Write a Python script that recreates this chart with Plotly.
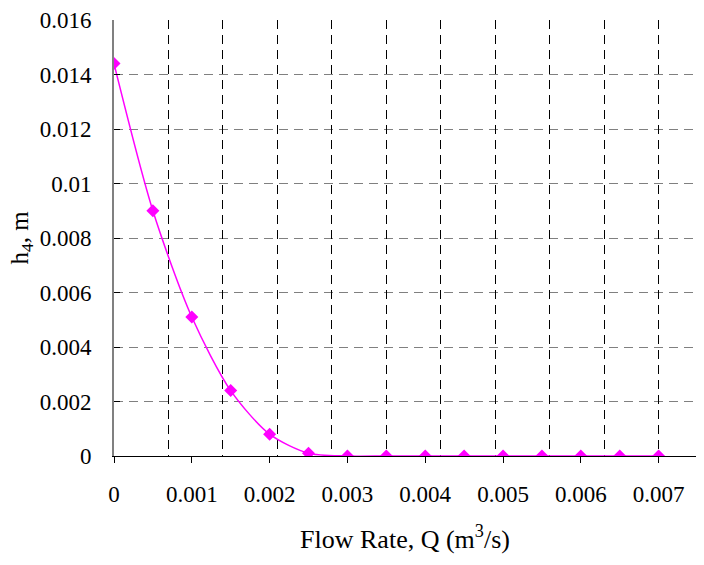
import plotly.graph_objects as go

# Flow rate Q (m^3/s) and head h4 (m)
flow_rate = [0.0, 0.0005, 0.001, 0.0015, 0.002, 0.0025, 0.003, 0.0035,
             0.004, 0.0045, 0.005, 0.0055, 0.006, 0.0065, 0.007]
head_h4 = [0.0144, 0.0090, 0.0051, 0.0024, 0.0008, 0.0001, 0.0, 0.0,
           0.0, 0.0, 0.0, 0.0, 0.0, 0.0, 0.0]

x_tick_values = [0.0, 0.001, 0.002, 0.003, 0.004, 0.005, 0.006, 0.007]
x_tick_labels = ["0", "0.001", "0.002", "0.003", "0.004", "0.005", "0.006", "0.007"]
y_tick_values = [0.0, 0.002, 0.004, 0.006, 0.008, 0.010, 0.012, 0.014, 0.016]
y_tick_labels = ["0", "0.002", "0.004", "0.006", "0.008", "0.01", "0.012", "0.014", "0.016"]

x_range = [0.0, 0.00748]
y_range = [0.0, 0.016]
vgrid_step = 0.0007

FONT = "Liberation Serif"
TICK_SIZE = 23
TITLE_SIZE = 26
MAGENTA = "#FF00FF"

fig = go.Figure()
# Invisible carrier so the grid-only x axis gets drawn
fig.add_trace(go.Scatter(
    x=flow_rate, y=head_h4, xaxis="x2", yaxis="y",
    mode="markers", marker=dict(opacity=0, size=1),
    hoverinfo="skip", showlegend=False,
))
fig.add_trace(go.Scatter(
    x=flow_rate, y=head_h4,
    mode="lines+markers",
    line=dict(color=MAGENTA, width=1.5, shape="spline", smoothing=0.8),
    marker=dict(symbol="diamond", size=10, color=MAGENTA),
    showlegend=False,
))

fig.update_layout(
    width=704, height=565,
    margin=dict(l=114, r=8, t=15, b=109),
    paper_bgcolor="white", plot_bgcolor="white",
    font=dict(family=FONT, size=TICK_SIZE, color="black"),
    xaxis=dict(
        range=x_range,
        tickmode="array", tickvals=x_tick_values, ticktext=x_tick_labels,
        ticks="outside", ticklen=6, tickcolor="black", tickwidth=1,
        showline=True, linecolor="black", linewidth=1,
        showgrid=False, zeroline=False,
        ticklabelstandoff=11,
        tickfont=dict(family=FONT, size=TICK_SIZE),
        title=dict(text="Flow Rate, Q (m<sup>3</sup>/s)", standoff=24,
                   font=dict(family=FONT, size=TITLE_SIZE)),
    ),
    # Secondary x axis only carries the dashed vertical grid
    xaxis2=dict(
        overlaying="x", anchor="y", side="bottom",
        range=x_range,
        tickmode="linear", tick0=0.0, dtick=vgrid_step,
        showticklabels=False, ticks="",
        showgrid=True, gridcolor="black", gridwidth=1, griddash="9px,6px",
        showline=False, zeroline=False,
    ),
    yaxis=dict(
        range=y_range,
        tickmode="array", tickvals=y_tick_values, ticktext=y_tick_labels,
        ticks="inside", ticklen=6, tickcolor="black", tickwidth=1,
        showline=True, linecolor="#808080", linewidth=2,
        showgrid=True, gridcolor="#808080", gridwidth=1, griddash="9px,6px",
        zeroline=False,
        ticklabelstandoff=16,
        tickfont=dict(family=FONT, size=TICK_SIZE),
        title=dict(text="h<sub>4</sub>, m", standoff=4,
                   font=dict(family=FONT, size=TITLE_SIZE - 1)),
    ),
)

fig.write_html("out.html")
